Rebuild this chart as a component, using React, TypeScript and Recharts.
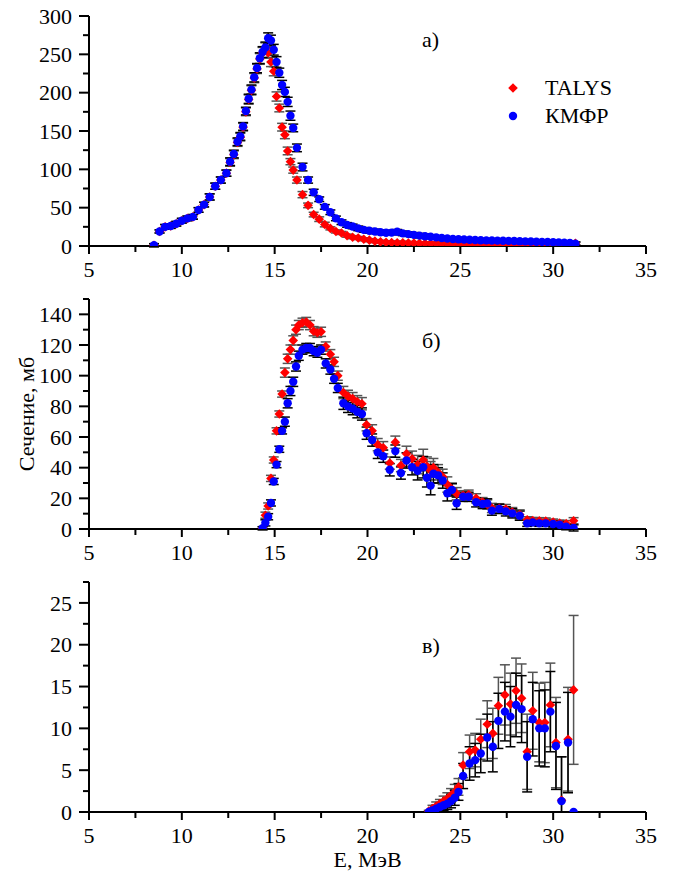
import React from 'react';
import { ScatterChart, Scatter, XAxis, YAxis, ErrorBar, Legend, Label } from 'recharts';

const FONT = 'Liberation Serif, Tinos, Times New Roman, DejaVu Serif, serif';
const FS = 22;

// panel а) — peak region
const aEnergy = [
  8.5, 8.8, 9.1, 9.4, 9.7, 10.0, 10.3, 10.6, 10.9, 11.2, 11.5, 11.8, 12.1, 12.4,
  12.6, 12.8, 13.0,
  13.15, 13.3, 13.45, 13.6, 13.75, 13.9, 14.05, 14.2, 14.35, 14.5, 14.65, 14.8, 14.95, 15.1, 15.25, 15.4, 15.55, 15.7, 15.85, 16.0,
  16.2, 16.5, 16.8, 17.1, 17.4, 17.7, 18.0, 18.3,
  18.6, 18.9, 19.2, 19.5, 19.8, 20.1, 20.4, 20.7, 21.0, 21.3, 21.6, 21.9, 22.2, 22.5, 22.8,
  23.1, 23.4, 23.7, 24.0, 24.3, 24.6, 24.9, 25.2, 25.5, 25.8, 26.1, 26.4, 26.7, 27.0,
  27.3, 27.6, 27.9, 28.2, 28.5, 28.8, 29.1, 29.4, 29.7, 30.0, 30.3, 30.6, 30.9, 31.2,
];
const aTalys = [
  1, 19, 25, 26, 29, 33, 36, 38, 47, 54, 64, 78, 86, 95,
  109, 119, 135,
  142, 155, 175, 191, 203, 219, 231, 244, 252, 258, 252, 240, 228, 195, 180, 155, 145, 124, 110, 99,
  86, 67, 53, 41, 35, 28, 23, 19,
  17, 13.5, 11.5, 10.4, 8.8, 7.6, 6.3, 5.5, 4.8, 4.5, 4.3, 4.1, 3.9, 3.7, 3.5,
  3.4, 3.3, 3.2, 3.1, 3.0, 2.9, 2.8, 2.7, 2.6, 2.5, 2.5, 2.4, 2.3, 2.3,
  2.2, 2.2, 2.1, 2.1, 2.0, 2.0, 1.9, 1.9, 1.8, 1.8, 1.8, 1.7, 1.7, 3.5,
];
const aTalysErr = [
  2, 2, 3, 3, 3, 3, 3, 3, 3, 3, 4, 4, 4, 4,
  5, 5, 5,
  5, 5, 5, 6, 6, 6, 6, 7, 7, 7, 7, 6, 6, 6, 5, 5, 5, 5, 4, 4,
  4, 4, 3, 3, 3, 3, 2, 2,
  2, 2, 2, 2, 2, 2, 2, 2, 2, 2, 2, 2, 2, 2, 2,
  2, 2, 2, 2, 2, 2, 2, 2, 2, 2, 2, 2, 2, 2,
  2, 2, 2, 2, 2, 2, 2, 2, 2, 2, 2, 2, 2, 2,
];
const aKmfr = [
  1, 19, 25, 26, 29, 33, 36, 38, 47, 54, 64, 78, 86, 95,
  110, 120, 136,
  143, 156, 176, 192, 204, 220, 232, 245, 253, 259, 271, 268, 256, 240, 226, 210, 201, 188, 170, 154,
  128, 103, 86, 70, 61, 51, 44, 36,
  31, 27.5, 25.5, 23, 21, 19.8, 19, 18, 17.2, 17.5, 18.5, 16.5, 15.5, 14.5, 13.5,
  12.8, 12, 11.3, 10.5, 9.8, 9.2, 8.8, 8.4, 8.1, 7.8, 7.5, 7.3, 7.2, 7.0,
  6.9, 6.7, 6.5, 6.3, 6.0, 5.8, 5.6, 5.4, 5.2, 5.0, 4.7, 4.4, 4.0, 3.0,
];
const aKmfrErr = [
  2, 2, 3, 3, 3, 3, 3, 3, 3, 3, 4, 4, 4, 4,
  5, 5, 5,
  5, 5, 5, 6, 6, 6, 6, 7, 7, 7, 7, 7, 7, 7, 6, 6, 6, 6, 6, 5,
  5, 5, 4, 4, 3, 3, 3, 3,
  3, 3, 3, 3, 3, 3, 3, 3, 3, 3, 3, 3, 3, 3, 3,
  3, 2, 2, 2, 2, 2, 2, 2, 2, 2, 2, 2, 2, 2,
  2, 2, 2, 2, 2, 2, 2, 2, 2, 2, 2, 2, 2, 2,
];

// panel б)
const bEnergy = [
  14.35, 14.5, 14.65, 14.8, 14.95, 15.1, 15.25, 15.4, 15.55, 15.7, 15.85, 16.0, 16.15, 16.3,
  16.5, 16.7, 16.9, 17.1, 17.3, 17.5,
  17.75, 18.0, 18.2, 18.4,
  18.7, 18.95, 19.2, 19.45, 19.7, 19.95,
  20.25, 20.55, 20.85, 21.2, 21.5, 21.8, 22.1, 22.4, 22.7,
  23.0, 23.2, 23.4, 23.55, 23.8, 24.05, 24.3, 24.55, 24.8,
  25.15, 25.45, 25.85, 26.2, 26.45, 26.7,
  27.1, 27.45, 27.8, 28.2, 28.6, 28.9,
  29.25, 29.6, 30.0, 30.35, 30.7, 31.1,
];
const bTalys = [
  0.5, 9, 15, 33, 45, 64, 75, 88, 102, 111, 117, 123, 130, 133,
  134.5, 135, 133, 129, 128, 128.6,
  119, 114, 109, 100,
  89, 86.5, 85, 83, 81.7, 68,
  64, 55, 53, 43, 56.6, 41.4, 49, 45.8, 42,
  45, 41, 38, 40, 37, 34, 29, 26, 23,
  22, 22.4, 20, 17.5, 16, 13.7,
  13.5, 13, 11, 9.5, 6, 5.5,
  5.4, 5.2, 4.5, 3.8, 3.5, 5.4,
];
const bTalysErr = [
  1, 2, 2, 2, 2, 2, 2, 2, 3, 3, 3, 3, 3, 3,
  3, 3, 3, 3, 3, 3,
  3, 3, 3, 3,
  4, 4, 4, 4, 4, 4,
  4, 4, 4, 4, 4, 4, 5, 5, 6,
  7, 6, 6, 6, 5, 5, 5, 4, 4,
  3, 3, 3, 3, 3, 3,
  3, 3, 3, 3, 2, 2,
  2, 2, 2, 2, 2, 2,
];
const bKmfr = [
  0.5, 4, 8, 17, 31, 42, 52, 64, 70, 82, 90, 96, 106, 113,
  117, 118, 118, 116, 115, 117,
  108, 104, 98, 92,
  82, 80, 78.5, 76.5, 75, 62.5,
  58, 50, 47.5, 38.6, 50.8, 36.5, 44.7, 40.3, 38,
  40.3, 33.4, 28.3, 36, 35, 31.6, 23.3, 25.5, 16.8,
  21, 21, 17.4, 16.3, 16.7, 12,
  13.1, 11.5, 10.2, 8.7, 3.7, 4.3,
  3.7, 3.7, 3.3, 2.8, 1.5, 0.7,
];
const bKmfrErr = [
  1, 2, 2, 2, 2, 2, 2, 2, 3, 3, 3, 3, 3, 3,
  3, 3, 3, 3, 3, 3,
  3, 3, 3, 3,
  4, 4, 4, 4, 4, 4,
  4, 4, 4, 4, 4, 4, 5, 5, 6,
  7, 6, 6, 6, 5, 5, 5, 4, 4,
  3, 3, 3, 3, 3, 3,
  3, 3, 3, 3, 2, 2,
  2, 2, 2, 2, 2, 2,
];

// panel в) — errors as [down, up] where the bar stops at zero
const cEnergy = [
  23.3, 23.5, 23.7, 23.9, 24.1, 24.3, 24.5, 24.7, 24.9, 25.15,
  25.5, 25.8, 26.1, 26.45, 26.75, 27.05, 27.4, 27.7, 28.0, 28.3,
  28.6, 28.9, 29.25, 29.55, 29.85, 30.15, 30.45, 30.8, 31.1,
];
const cTalys = [
  0.1, 0.4, 0.7, 1.0, 1.3, 1.6, 2.0, 2.4, 3.0, 5.6,
  7.2, 7.4, 8.7, 10.5, 9.4, 12.7, 14.0, 12.9, 14.5, 13.6,
  7.2, 12.1, 10.7, 10.7, 12.8, 8.3, 1.4, 8.7, 14.6,
];
const cTalysErr: (number | number[])[] = [
  0.1, 0.4, 0.5, 0.5, 0.6, 0.7, 0.8, 0.9, 1.0, 1.5,
  2.0, 2.0, 2.4, 2.8, 3.0, 3.4, 3.6, 3.7, 3.9, 4.1,
  4.5, 4.6, 4.7, 4.8, 5.0, 5.4, [1.4, 5.2], 6.2, 8.9,
];
const cKmfr = [
  0, 0.2, 0.4, 0.6, 0.8, 1.0, 1.3, 1.7, 2.4, 4.3,
  5.8, 6.2, 7.0, 8.9, 7.8, 10.9, 12.0, 11.4, 12.8, 12.3,
  6.6, 11.1, 10.0, 10.0, 12.0, 7.9, 1.3, 8.3, 0,
];
const cKmfrErr: (number | number[])[] = [
  0, 0.2, 0.4, 0.5, 0.6, 0.7, 0.8, 0.9, 1.0, 1.5,
  2.0, 2.0, 2.3, 2.8, 3.0, 3.3, 3.5, 3.6, 3.8, 4.0,
  4.2, 4.4, 4.5, 4.6, 4.8, 5.2, [1.3, 5.3], 6.0, 0,
];

const energyTicks = [5, 7.5, 10, 12.5, 15, 17.5, 20, 22.5, 25, 27.5, 30, 32.5, 35];
const aTicks = [0, 25, 50, 75, 100, 125, 150, 175, 200, 225, 250, 275, 300];
const bTicks = [0, 10, 20, 30, 40, 50, 60, 70, 80, 90, 100, 110, 120, 130, 140, 150];
const cTicks = [0, 2.5, 5, 7.5, 10, 12.5, 15, 17.5, 20, 22.5, 25, 27.5];

const legendItems = [
  { name: 'TALYS', color: '#ff0000', shape: 'diamond' },
  { name: 'КМФР', color: '#0000ff', shape: 'circle' },
];

type Point = { e: number; v: number; err: number | number[] };

const toPoints = (energy: number[], values: number[], errors: (number | number[])[]): Point[] =>
  energy.map((e, i) => ({ e, v: values[i], err: errors[i] }));

const Diamond = (props: any) => {
  const { cx, cy } = props;
  if (cx == null || cy == null) return null;
  const r = 4.8;
  return <path d={`M${cx},${cy - r}L${cx + r},${cy}L${cx},${cy + r}L${cx - r},${cy}Z`} fill="#ff0000" />;
};

const Dot = (props: any) => {
  const { cx, cy } = props;
  if (cx == null || cy == null) return null;
  return <circle cx={cx} cy={cy} r={4.2} fill="#0000ff" />;
};

const XTick = (props: any) => {
  const { x, y, payload } = props;
  const major = payload.value % 5 === 0;
  return (
    <g>
      <line x1={x} y1={y} x2={x} y2={y + (major ? 8 : 6)} stroke="#000" strokeWidth={2} />
      {major && (
        <text x={x} y={y + 30.5} textAnchor="middle" fontSize={FS} fontFamily={FONT} fill="#000">
          {payload.value}
        </text>
      )}
    </g>
  );
};

const YTick = (props: any) => {
  const { x, y, payload, step } = props;
  const major = payload.value % step === 0;
  return (
    <g>
      <line x1={x} y1={y} x2={x - (major ? 10 : 6)} y2={y} stroke="#000" strokeWidth={2} />
      {major && (
        <text x={x - 17} y={y} dy="0.35em" textAnchor="end" fontSize={FS} fontFamily={FONT} fill="#000">
          {payload.value}
        </text>
      )}
    </g>
  );
};

const renderLegend = () => (
  <div style={{ fontFamily: FONT, fontSize: FS, lineHeight: '28px', color: '#000' }}>
    {legendItems.map((item) => (
      <div key={item.name} style={{ display: 'flex', alignItems: 'center', height: 28 }}>
        <svg width={16} height={16}>
          {item.shape === 'diamond' ? (
            <path d="M8,3.2L12.8,8L8,12.8L3.2,8Z" fill={item.color} />
          ) : (
            <circle cx={8} cy={8} r={4.2} fill={item.color} />
          )}
        </svg>
        <span style={{ marginLeft: 24 }}>{item.name}</span>
      </div>
    ))}
  </div>
);

type PanelProps = {
  top: number;
  height: number;
  yDomain: [number, number];
  yTicks: number[];
  yStep: number;
  talys: Point[];
  kmfr: Point[];
  showLegend?: boolean;
  yLabel?: string;
  xLabel?: string;
};

const Panel = ({ top, height, yDomain, yTicks, yStep, talys, kmfr, showLegend, yLabel, xLabel }: PanelProps) => (
  <div style={{ position: 'absolute', left: 0, top }}>
    <ScatterChart width={678} height={height} margin={{ top: 16, right: 32, bottom: 0, left: 0 }}>
      <XAxis
        dataKey="e"
        type="number"
        domain={[5, 35]}
        ticks={energyTicks}
        interval={0}
        tickSize={0}
        tickMargin={0}
        tickLine={false}
        tick={(p: any) => <XTick {...p} />}
        axisLine={{ stroke: '#000', strokeWidth: 2 }}
        height={height - 16 - 230}
        allowDataOverflow
      >
        {xLabel && (
          <Label
            content={(p: any) => {
              const vb = p.viewBox;
              return (
                <text x={vb.x + vb.width / 2} y={vb.y + 55} textAnchor="middle" fontSize={FS} fontFamily={FONT} fill="#000">
                  {xLabel}
                </text>
              );
            }}
          />
        )}
      </XAxis>
      <YAxis
        dataKey="v"
        type="number"
        domain={yDomain}
        ticks={yTicks}
        interval={0}
        tickSize={0}
        tickMargin={0}
        tickLine={false}
        tick={(p: any) => <YTick {...p} step={yStep} />}
        axisLine={{ stroke: '#000', strokeWidth: 2 }}
        width={89}
        allowDataOverflow
      >
        {yLabel && (
          <Label
            content={(p: any) => {
              const vb = p.viewBox;
              const cy = vb.y + vb.height / 2;
              return (
                <text x={26} y={cy} transform={`rotate(-90 26 ${cy})`} dy="0.35em" textAnchor="middle" fontSize={FS} fontFamily={FONT} fill="#000">
                  {yLabel}
                </text>
              );
            }}
          />
        )}
      </YAxis>
      {showLegend && (
        <Legend
          layout="vertical"
          align="center"
          verticalAlign="middle"
          content={renderLegend}
          wrapperStyle={{ left: 505, top: 74, width: 160 }}
        />
      )}
      <Scatter name="TALYS" data={talys} shape={Diamond} isAnimationActive={false}>
        <ErrorBar dataKey="err" direction="y" width={5} stroke="#555" strokeWidth={1.5} />
      </Scatter>
      <Scatter name="КМФР" data={kmfr} shape={Dot} isAnimationActive={false}>
        <ErrorBar dataKey="err" direction="y" width={5} stroke="#000" strokeWidth={1.5} />
      </Scatter>
    </ScatterChart>
  </div>
);

const tagStyle: React.CSSProperties = {
  position: 'absolute',
  fontFamily: FONT,
  fontSize: FS,
  lineHeight: '22px',
  color: '#000',
};

export default function App() {
  return (
    <div style={{ position: 'absolute', left: 0, top: 0, width: 678, height: 872, background: '#fff', overflow: 'hidden' }}>
      <Panel
        top={0}
        height={290}
        yDomain={[0, 300]}
        yTicks={aTicks}
        yStep={50}
        talys={toPoints(aEnergy, aTalys, aTalysErr)}
        kmfr={toPoints(aEnergy, aKmfr, aKmfrErr)}
        showLegend
      />
      <Panel
        top={282.5}
        height={290}
        yDomain={[0, 150]}
        yTicks={bTicks}
        yStep={20}
        talys={toPoints(bEnergy, bTalys, bTalysErr)}
        kmfr={toPoints(bEnergy, bKmfr, bKmfrErr)}
        yLabel="Сечение, мб"
      />
      <Panel
        top={566}
        height={306}
        yDomain={[0, 27.5]}
        yTicks={cTicks}
        yStep={5}
        talys={toPoints(cEnergy, cTalys, cTalysErr)}
        kmfr={toPoints(cEnergy, cKmfr, cKmfrErr)}
        xLabel="E, МэВ"
      />
      <span style={{ ...tagStyle, left: 422, top: 29 }}>а)</span>
      <span style={{ ...tagStyle, left: 422, top: 330 }}>б)</span>
      <span style={{ ...tagStyle, left: 422, top: 635 }}>в)</span>
    </div>
  );
}
